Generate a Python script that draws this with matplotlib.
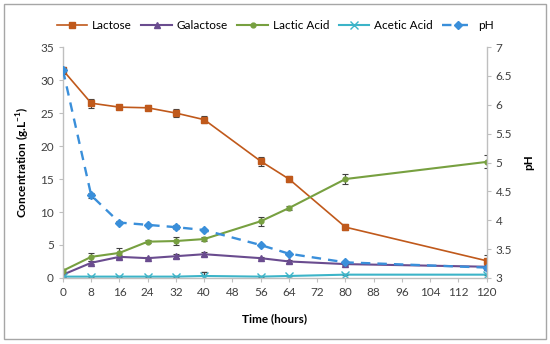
import matplotlib
matplotlib.use("Agg")
import matplotlib.pyplot as plt
from matplotlib.patches import Rectangle
from matplotlib.lines import Line2D

plt.rcParams['font.family'] = ['Lato', 'DejaVu Sans']

time = [0, 8, 16, 24, 32, 40, 56, 64, 80, 120]
lactose = [31.5, 26.5, 25.9, 25.8, 25.0, 24.0, 17.7, 15.0, 7.7, 2.6]
lactose_err = [0.5, 0.7, 0.3, 0.4, 0.6, 0.5, 0.7, 0.5, 0.5, 0.9]
galactose = [0.5, 2.3, 3.2, 3.0, 3.3, 3.6, 3.0, 2.5, 2.1, 1.7]
galactose_err = [0.2, 0.2, 0.3, 0.2, 0.3, 0.3, 0.2, 0.2, 0.2, 0.2]
lactic = [1.1, 3.2, 3.8, 5.5, 5.6, 5.9, 8.6, 10.6, 15.0, 17.6]
lactic_err = [0.3, 0.6, 0.7, 0.2, 0.6, 0.3, 0.7, 0.3, 0.7, 1.0]
acetic = [0.2, 0.2, 0.2, 0.2, 0.2, 0.3, 0.2, 0.3, 0.5, 0.5]
acetic_err = [0.05, 0.05, 0.05, 0.05, 0.05, 0.6, 0.05, 0.05, 0.1, 0.1]
ph = [6.6, 4.43, 3.96, 3.92, 3.88, 3.83, 3.57, 3.42, 3.27, 3.18]
ph_err = [0.03, 0.05, 0.02, 0.02, 0.03, 0.02, 0.02, 0.02, 0.03, 0.02]
xticks = list(range(0, 121, 8))

c_lac = '#C0591B'
c_gal = '#6A4C8F'
c_lacacid = '#77A040'
c_ace = '#3CB4C8'
c_ph = '#3A8FDA'
gray = '#BFBFBF'

fig = plt.figure(figsize=(5.5, 3.44), dpi=100)
fig.patches.append(Rectangle((0.008, 0.015), 0.984, 0.972, transform=fig.transFigure,
                             fill=False, edgecolor='#A6A6A6', linewidth=1.0))
ax = fig.add_axes([0.1145, 0.192, 0.7705, 0.671])
ax2 = ax.twinx()

ekw = dict(ecolor='#404040', elinewidth=0.8, capsize=2, capthick=0.8)
styles = [
    dict(color=c_lac, marker='s', ms=4, lw=1.2),
    dict(color=c_gal, marker='^', ms=5, lw=1.5),
    dict(color=c_lacacid, marker='o', ms=3.5, lw=1.5),
    dict(color=c_ace, marker='x', ms=6, mew=1.0, lw=1.5),
    dict(color=c_ph, marker='D', ms=4.5, lw=1.7, ls=(0, (4, 3))),
]
labels = ['Lactose', 'Galactose', 'Lactic Acid', 'Acetic Acid', 'pH']
ax.errorbar(time, lactose, yerr=lactose_err, **styles[0], **ekw)
ax.errorbar(time, galactose, yerr=galactose_err, **styles[1], **ekw)
ax.errorbar(time, lactic, yerr=lactic_err, **styles[2], **ekw)
ax.errorbar(time, acetic, yerr=acetic_err, **styles[3], **ekw)
ax2.errorbar(time, ph, yerr=ph_err, **styles[4], **ekw)

ax.set_xlim(0, 120)
ax.set_ylim(0, 35)
ax2.set_ylim(3, 7)
ax.set_xticks(xticks)
ax.set_yticks(range(0, 36, 5))
ax2.set_yticks([3, 3.5, 4, 4.5, 5, 5.5, 6, 6.5, 7])
ax2.set_yticklabels(['3', '3.5', '4', '4.5', '5', '5.5', '6', '6.5', '7'])

for a in (ax, ax2):
    a.spines['top'].set_visible(False)
    for s in ('left', 'right', 'bottom'):
        a.spines[s].set_color(gray)
        a.spines[s].set_linewidth(1.0)
    a.tick_params(colors='#404040', labelsize=8.5, length=3, width=0.8)
    a.tick_params(axis='both', color=gray)
ax.spines['right'].set_visible(False)
ax2.spines['left'].set_visible(False)
ax2.spines['bottom'].set_visible(False)

ax.set_xlabel('Time (hours)', fontsize=8.5, fontweight='bold', labelpad=11)
ax.set_ylabel('Concentration (g.L$^{\\mathregular{-1}}$)', fontsize=8.5, fontweight='bold', labelpad=6)
ax2.set_ylabel('pH', fontsize=8.5, fontweight='bold', labelpad=8)

handles = [Line2D([], [], **st) for st in styles]
fig.legend(handles=handles, labels=labels, loc='center', bbox_to_anchor=(0.5, 0.925), ncol=5,
           frameon=False, fontsize=8.5, handlelength=2.6, columnspacing=0.8, handletextpad=0.4)

fig.savefig('out.png', dpi=100)
